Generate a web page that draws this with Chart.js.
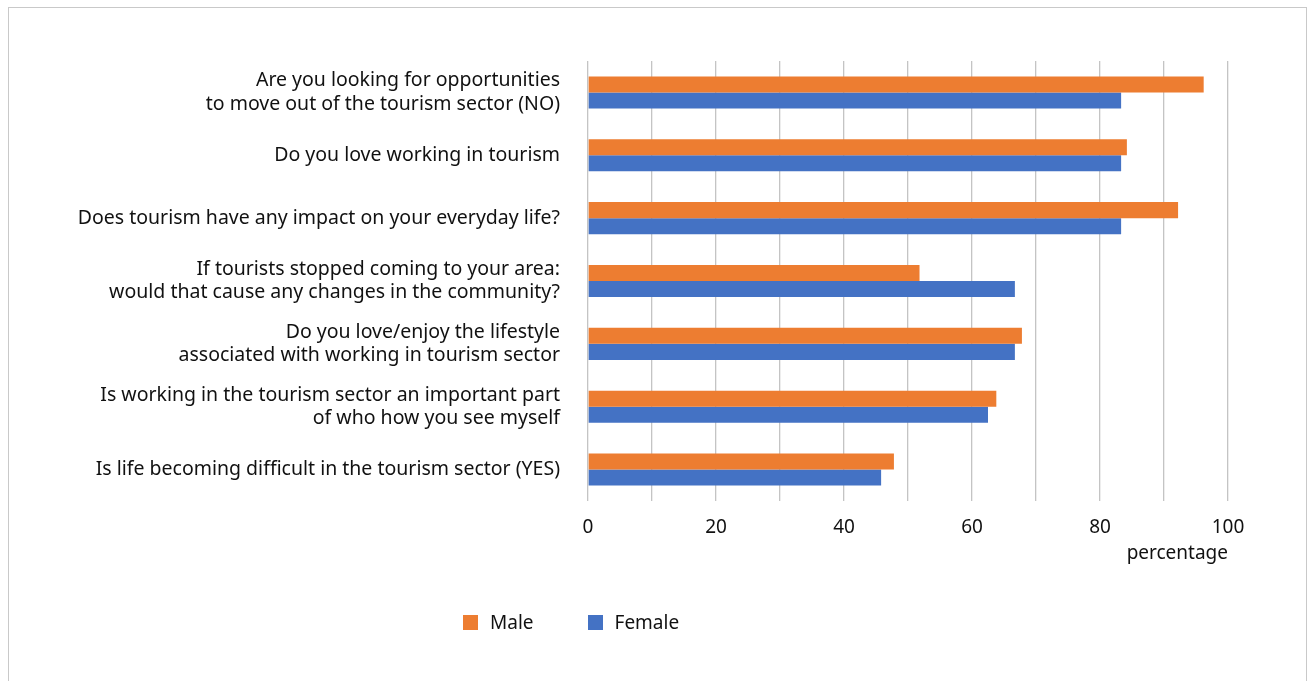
<!DOCTYPE html>
<html>
<head>
<meta charset="utf-8">
<script src="https://cdn.jsdelivr.net/npm/chart.js@4"></script>
<style>
  html, body { margin: 0; padding: 0; background: #fff; }
  body { width: 1310px; height: 681px; position: relative; overflow: hidden; font-family: "Noto Sans", sans-serif; }
  #frame { position: absolute; left: 8px; top: 7px; width: 1297px; height: 700px; border: 1.5px solid #c9c9c9; }
  #wrap { position: absolute; left: 0; top: 0; width: 1310px; height: 681px; }
  #legend { position: absolute; top: 609px; left: 463px; display: flex; font-size: 19px; color: #111; }
  #legend .item { display: flex; align-items: center; margin-right: 54px; }
  #legend .box { width: 15px; height: 15px; margin-right: 12px; }
</style>
</head>
<body>
<div id="frame"></div>
<div id="wrap"><canvas id="graphic" width="1310" height="681"></canvas></div>
<div id="legend"></div>
<script>
  const questions = [
    ["Are you looking for opportunities", "to move out of the tourism sector (NO)"],
    "Do you love working in tourism",
    "Does tourism have any impact on your everyday life?",
    ["If tourists stopped coming to your area:", "would that cause any changes in the community?"],
    ["Do you love/enjoy the lifestyle", "associated with working in tourism sector"],
    ["Is working in the tourism sector an important part", "of who how you see myself"],
    "Is life becoming difficult in the tourism sector (YES)"
  ];
  const male = [96.2, 84.2, 92.2, 51.8, 67.8, 63.8, 47.8];
  const female = [83.3, 83.3, 83.3, 66.7, 66.7, 62.5, 45.8];

  const textColor = "#111";
  Chart.defaults.font.family = "'Noto Sans', sans-serif";
  Chart.defaults.font.size = 19;
  Chart.defaults.color = textColor;

  var ctx = document.getElementById("graphic").getContext("2d");
  var chart = new Chart(ctx, {
    type: "bar",
    data: {
      labels: questions,
      datasets: [
        { label: "Male", data: male, backgroundColor: "#ED7D31" },
        { label: "Female", data: female, backgroundColor: "#4472C4" },
      ],
    },
    options: {
      indexAxis: "y",
      responsive: false,
      animation: false,
      layout: { padding: { top: 61, right: 82, bottom: 116, left: 0 } },
      datasets: { bar: { categoryPercentage: 0.51, barPercentage: 1 } },
      plugins: { legend: { display: false }, tooltip: { enabled: false } },
      scales: {
        x: {
          min: 0,
          max: 100,
          ticks: { stepSize: 10, padding: 15, color: textColor, maxRotation: 0,
            callback: (v) => (v % 20 === 0 ? v : "") },
          grid: { color: "#c4c4c4", lineWidth: 1.3, drawTicks: false },
          border: { display: false },
          title: { display: true, text: "percentage", align: "end", color: textColor,
            padding: { top: 0, bottom: 0 }, font: { size: 19 } },
          afterFit: (s) => { s.height = 64; },
        },
        y: {
          ticks: { padding: 20, color: textColor, font: { size: 19.5, lineHeight: 1.2 } },
          grid: { display: false },
          border: { display: false },
          afterFit: (s) => { s.width = 588; },
        },
      },
    },
  });

  // legend built from the datasets
  const legend = document.getElementById("legend");
  chart.data.datasets.forEach((ds) => {
    const item = document.createElement("div");
    item.className = "item";
    item.innerHTML = '<span class="box" style="background:' + ds.backgroundColor + '"></span>' + ds.label;
    legend.appendChild(item);
  });
</script>
</body>
</html>
